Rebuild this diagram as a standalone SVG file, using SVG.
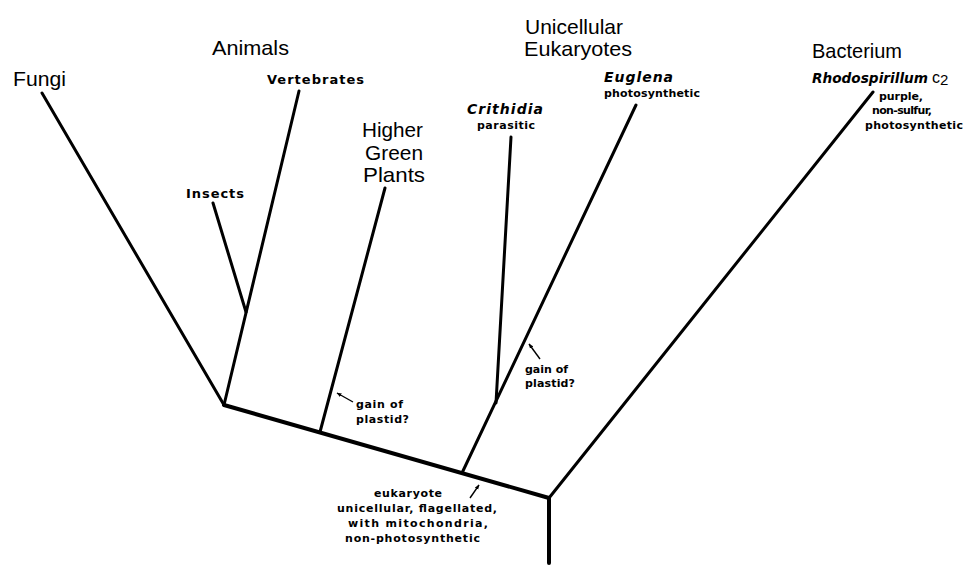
<svg xmlns="http://www.w3.org/2000/svg" width="967" height="566" viewBox="0 0 967 566">
<style>
text{font-family:"Liberation Sans",Arial,sans-serif;fill:#000}
.big{font-size:21px}
.med{font-family:"DejaVu Sans",sans-serif;font-size:13px;font-weight:bold}
.sm{font-family:"DejaVu Sans",sans-serif;font-size:11px;font-weight:bold}
.it{font-family:"DejaVu Sans",sans-serif;font-size:14px;font-style:italic;font-weight:bold}
.br{stroke:#000;stroke-width:3;stroke-linecap:round;fill:none}
.base{stroke:#000;stroke-width:4;stroke-linecap:round;fill:none}
.ptr{stroke:#000;stroke-width:1.4;fill:none;marker-end:url(#ah)}
</style>
<defs>
<marker id="ah" viewBox="0 0 10 10" refX="9" refY="5" markerWidth="5" markerHeight="5" orient="auto" markerUnits="userSpaceOnUse">
<path d="M0,1 L10,5 L0,9 Z" fill="#000"/>
</marker>
</defs>
<g id="connectors">
<line class="base" x1="224" y1="405" x2="549" y2="498"/>
<line class="base" x1="549" y1="498" x2="549" y2="563"/>
<line class="br" x1="224" y1="405" x2="42" y2="93"/>
<line class="br" x1="224" y1="405" x2="299" y2="91"/>
<line class="br" x1="246" y1="312" x2="213" y2="203"/>
<line class="br" x1="320" y1="432" x2="385" y2="188"/>
<line class="br" x1="462" y1="473" x2="636" y2="105"/>
<line class="br" x1="496" y1="403" x2="511" y2="137"/>
<line class="br" x1="549" y1="498" x2="873" y2="92"/>
<line class="ptr" x1="353" y1="402" x2="337" y2="393"/>
<line class="ptr" x1="540" y1="359" x2="529" y2="344"/>
<line class="ptr" x1="470" y1="498" x2="479" y2="485"/>
</g>
<g id="fungi"><text class="big" x="13" y="86" textLength="53" lengthAdjust="spacingAndGlyphs">Fungi</text></g>
<g id="animals"><text class="big" x="212" y="55" textLength="77" lengthAdjust="spacingAndGlyphs">Animals</text></g>
<g id="vertebrates"><text class="med" x="267" y="84" textLength="97" lengthAdjust="spacing">Vertebrates</text></g>
<g id="insects"><text class="med" x="186" y="198" textLength="58" lengthAdjust="spacing">Insects</text></g>
<g id="plants">
<text class="big" x="362" y="137" textLength="61" lengthAdjust="spacingAndGlyphs">Higher</text>
<text class="big" x="365" y="160" textLength="58" lengthAdjust="spacingAndGlyphs">Green</text>
<text class="big" x="363" y="182" textLength="62" lengthAdjust="spacingAndGlyphs">Plants</text>
</g>
<g id="unicellular">
<text class="big" x="525" y="34" textLength="98" lengthAdjust="spacingAndGlyphs">Unicellular</text>
<text class="big" x="524" y="56" textLength="108" lengthAdjust="spacingAndGlyphs">Eukaryotes</text>
</g>
<g id="crithidia">
<text class="it" x="467" y="114" textLength="76" lengthAdjust="spacing">Crithidia</text>
<text class="sm" x="477" y="129" textLength="58" lengthAdjust="spacing">parasitic</text>
</g>
<g id="euglena">
<text class="it" x="604" y="82" textLength="69" lengthAdjust="spacing">Euglena</text>
<text class="sm" x="604" y="97" textLength="96" lengthAdjust="spacing">photosynthetic</text>
</g>
<g id="bacterium">
<text class="big" x="812" y="58" textLength="90" lengthAdjust="spacingAndGlyphs">Bacterium</text>
<text class="it" x="812" y="83" textLength="116" lengthAdjust="spacingAndGlyphs">Rhodospirillum</text>
<text x="932" y="83" style="font-size:16px">c<tspan dy="2" style="font-size:15px">2</tspan></text>
<text class="sm" x="879" y="100" textLength="44" lengthAdjust="spacing">purple,</text>
<text class="sm" x="872" y="114" textLength="60" lengthAdjust="spacing">non-sulfur,</text>
<text class="sm" x="865" y="129" textLength="98" lengthAdjust="spacing">photosynthetic</text>
</g>
<g id="plastid1">
<text class="sm" x="356" y="408" textLength="47" lengthAdjust="spacing">gain of</text>
<text class="sm" x="356" y="423" textLength="53" lengthAdjust="spacing">plastid?</text>
</g>
<g id="plastid2">
<text class="sm" x="525" y="373" textLength="43" lengthAdjust="spacing">gain of</text>
<text class="sm" x="525" y="387" textLength="50" lengthAdjust="spacing">plastid?</text>
</g>
<g id="eukaryote">
<text class="sm" x="374" y="497" textLength="68" lengthAdjust="spacing">eukaryote</text>
<text class="sm" x="337" y="512" textLength="160" lengthAdjust="spacing">unicellular, flagellated,</text>
<text class="sm" x="348" y="527" textLength="140" lengthAdjust="spacing">with mitochondria,</text>
<text class="sm" x="345" y="542" textLength="135" lengthAdjust="spacing">non-photosynthetic</text>
</g>
</svg>
